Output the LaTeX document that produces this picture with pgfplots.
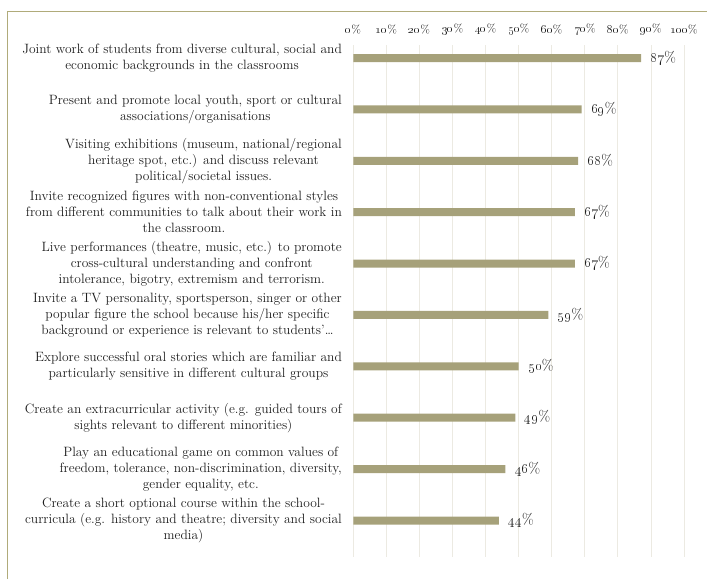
\documentclass[border=0pt]{standalone}
\usepackage{pgfplots}
\pgfplotsset{compat=1.18}
\definecolor{barcol}{RGB}{166,161,122}
\definecolor{framecol}{RGB}{176,171,122}
\definecolor{gridcol}{RGB}{236,234,226}
\definecolor{txt}{RGB}{30,30,30}
\begin{document}
\begin{tikzpicture}
\path[use as bounding box] (0pt,0pt) rectangle (707pt,-579pt);
\draw[framecol,line width=1.5pt] (7.5pt,-579pt) -- (7.5pt,-11.7pt) -- (707pt,-11.7pt);
\begin{axis}[
  at={(353.4pt,-45pt)}, anchor=north west,
  scale only axis, width=330.6pt, height=512pt,
  xmin=0, xmax=100, ymin=-0.253, ymax=9.71,
  y dir=reverse,
  xbar, bar width=8pt,
  axis line style={draw=none},
  major tick length=0pt,
  xtick={0,10,...,100},
  xmajorgrids, grid style={gridcol, line width=0.8pt},
  xticklabel pos=upper,
  /pgf/number format/assume math mode=true,
  xticklabel={\oldstylenums{\pgfmathprintnumber{\tick}}\%},
  xticklabel style={font=\fontsize{11.5}{13}\selectfont, text=txt, yshift=7pt},
  ytick={0,...,9},
  yticklabels={
    {Joint work of students from diverse cultural, social and\\economic backgrounds in the classrooms},
    {Present and promote local youth, sport or cultural\\associations/organisations},
    {Visiting exhibitions (museum, national/regional\\heritage spot, etc.) and discuss relevant\\political/societal issues.},
    {Invite recognized figures with non-conventional styles\\from different communities to talk about their work in\\the classroom.},
    {Live performances (theatre, music, etc.) to promote\\cross-cultural understanding and confront\\intolerance, bigotry, extremism and terrorism.},
    {Invite a TV personality, sportsperson, singer or other\\popular figure the school because his/her specific\\background or experience is relevant to students'\dots},
    {Explore successful oral stories which are familiar and\\particularly sensitive in different cultural groups},
    {Create an extracurricular activity (e.g. guided tours of\\sights relevant to different minorities)},
    {Play an educational game on common values of\\freedom, tolerance, non-discrimination, diversity,\\gender equality, etc.},
    {Create a short optional course within the school-\\curricula (e.g. history and theatre; diversity and social\\media)}
  },
  yticklabel style={font=\fontsize{13.5}{16}\selectfont, align=center, text=txt, xshift=-8pt},
  nodes near coords={\oldstylenums{\pgfmathprintnumber{\pgfplotspointmeta}}\%},
  nodes near coords style={font=\fontsize{15}{17}\selectfont, text=txt, anchor=west, xshift=6pt},
  point meta=x,
]
\addplot[draw=none, fill=barcol] coordinates {
  (87,0) (69,1) (68,2) (67,3) (67,4) (59,5) (50,6) (49,7) (46,8) (44,9)
};
\end{axis}
\end{tikzpicture}
\end{document}
